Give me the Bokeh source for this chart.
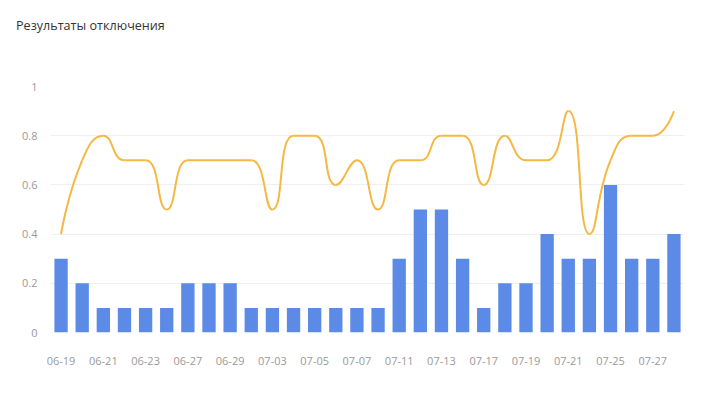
from bokeh.plotting import figure
from bokeh.models import Range1d, FixedTicker, Div
from bokeh.layouts import column
from bokeh.embed import file_html
from bokeh.resources import INLINE

# ---- data ----
dates = ["06-19", "06-20", "06-21", "06-22", "06-23", "06-26", "06-27", "06-28", "06-29", "06-30",
         "07-03", "07-04", "07-05", "07-06", "07-07", "07-10", "07-11", "07-12", "07-13", "07-14",
         "07-17", "07-18", "07-19", "07-20", "07-21", "07-24", "07-25", "07-26", "07-27", "07-28"]
bar_values = [0.3, 0.2, 0.1, 0.1, 0.1, 0.1, 0.2, 0.2, 0.2, 0.1,
              0.1, 0.1, 0.1, 0.1, 0.1, 0.1, 0.3, 0.5, 0.5, 0.3,
              0.1, 0.2, 0.2, 0.4, 0.3, 0.3, 0.6, 0.3, 0.3, 0.4]
line_values = [0.4, 0.7, 0.8, 0.7, 0.7, 0.5, 0.7, 0.7, 0.7, 0.7,
               0.5, 0.8, 0.8, 0.6, 0.7, 0.5, 0.7, 0.7, 0.8, 0.8,
               0.6, 0.8, 0.7, 0.7, 0.9, 0.4, 0.7, 0.8, 0.8, 0.9]
y_ticks = [0, 0.2, 0.4, 0.6, 0.8, 1]
y_tick_labels = ["0", "0.2", "0.4", "0.6", "0.8", "1"]
title_text = "Результаты отключения"

BAR_COLOR = "#5B8BE6"
LINE_COLOR = "#F4B942"
FONT = "Open Sans"

xs = list(range(len(dates)))
PX_PER_X = 21.12   # pixel width of one category slot
PX_PER_Y = 246.5   # pixel height of one y unit

title_div = Div(text=title_text, width=679, height=23, margin=(17, 0, 0, 16),
                styles={"font-family": FONT, "font-size": "12.6px", "color": "#333333",
                        "line-height": "18px", "white-space": "nowrap"})

p = figure(width=695, height=368, output_backend="svg", toolbar_location=None,
           x_range=Range1d(-0.5, len(dates) - 0.5), y_range=Range1d(0, 1),
           min_border_left=50, min_border_right=11, min_border_top=46, min_border_bottom=76)
p.outline_line_color = None
p.background_fill_color = "white"
p.border_fill_color = "white"

p.vbar(x=xs, top=bar_values, width=0.63, bottom=0, fill_color=BAR_COLOR, line_color=None)


# echarts-like smooth line (bezier segments computed in pixel-proportional space)
def smooth_segments(xv, yv, sx, sy, smooth=0.5):
    pts = [(x * sx, y * sy) for x, y in zip(xv, yv)]
    n = len(pts)
    segs = []
    cp0 = pts[0]
    for i in range(1, n):
        x, y = pts[i]
        px, py = pts[i - 1]
        if i == n - 1:
            cp1 = (x, y)
            ncp0 = None
        else:
            nx, ny = pts[i + 1]
            vx, vy = nx - px, ny - py
            lp = ((x - px) ** 2 + (y - py) ** 2) ** 0.5
            ln = ((nx - x) ** 2 + (ny - y) ** 2) ** 0.5
            r = ln / (ln + lp)
            ncx = x + vx * smooth * r
            ncy = y + vy * smooth * r
            ncx = min(ncx, max(nx, x)); ncy = min(ncy, max(ny, y))
            ncx = max(ncx, min(nx, x)); ncy = max(ncy, min(ny, y))
            vx, vy = ncx - x, ncy - y
            c1x = x - vx * lp / ln
            c1y = y - vy * lp / ln
            c1x = min(c1x, max(px, x)); c1y = min(c1y, max(py, y))
            c1x = max(c1x, min(px, x)); c1y = max(c1y, min(py, y))
            vx, vy = x - c1x, y - c1y
            ncp0 = (x + vx * ln / lp, y + vy * ln / lp)
            cp1 = (c1x, c1y)
        segs.append(((px, py), cp0, cp1, (x, y)))
        cp0 = ncp0
    out = dict(x0=[], y0=[], x1=[], y1=[], cx0=[], cy0=[], cx1=[], cy1=[])
    for a, c0, c1, b in segs:
        out["x0"].append(a[0] / sx); out["y0"].append(a[1] / sy)
        out["cx0"].append(c0[0] / sx); out["cy0"].append(c0[1] / sy)
        out["cx1"].append(c1[0] / sx); out["cy1"].append(c1[1] / sy)
        out["x1"].append(b[0] / sx); out["y1"].append(b[1] / sy)
    return out


seg = smooth_segments(xs, line_values, PX_PER_X, PX_PER_Y)
p.bezier(x0=seg["x0"], y0=seg["y0"], x1=seg["x1"], y1=seg["y1"],
         cx0=seg["cx0"], cy0=seg["cy0"], cx1=seg["cx1"], cy1=seg["cy1"],
         line_color=LINE_COLOR, line_width=2)

# axes
p.xaxis.ticker = FixedTicker(ticks=xs[::2])
p.xaxis.major_label_overrides = {i: dates[i] for i in xs[::2]}
p.xaxis.axis_line_color = None
p.xaxis.major_tick_line_color = None
p.xaxis.minor_tick_line_color = None
p.xaxis.major_label_standoff = 18
p.xaxis.major_label_text_font = FONT
p.xaxis.major_label_text_font_size = "11px"
p.xaxis.major_label_text_color = "#9a9a9a"

p.yaxis.ticker = FixedTicker(ticks=y_ticks)
p.yaxis.major_label_overrides = {v: s for v, s in zip(y_ticks, y_tick_labels)}
p.yaxis.axis_line_color = None
p.yaxis.major_tick_line_color = None
p.yaxis.minor_tick_line_color = None
p.yaxis.major_label_standoff = 7
p.yaxis.major_label_text_font = FONT
p.yaxis.major_label_text_font_size = "11px"
p.yaxis.major_label_text_color = "#9a9a9a"

p.xgrid.grid_line_color = None
p.ygrid.grid_line_color = "#efefef"
p.ygrid.grid_line_width = 1

layout = column(title_div, p, spacing=0)
open("out.html", "w").write(file_html(layout, INLINE))
